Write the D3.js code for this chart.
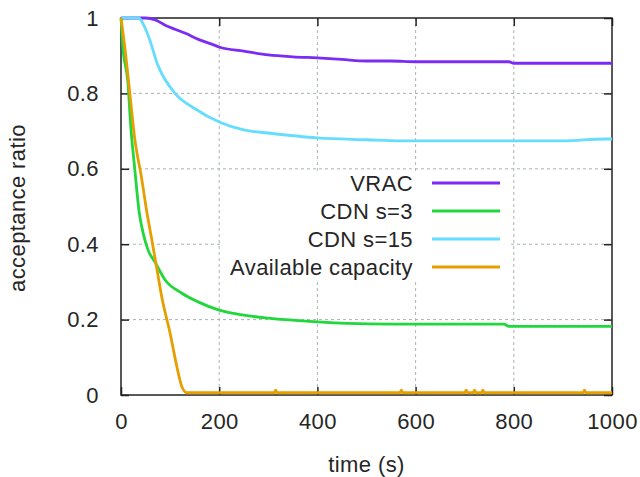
<!DOCTYPE html>
<html>
<head>
<meta charset="utf-8">
<script src="https://d3js.org/d3.v7.min.js"></script>
<style>
body { margin: 0; background: #fff; }
svg text { font-family: "Liberation Sans", Arial, sans-serif; fill: #262626; letter-spacing: 0.4px; }
.grid line { stroke: #a9b6b1; stroke-width: 1; stroke-dasharray: 3,3; }
.series { fill: none; stroke-width: 2.8; stroke-linejoin: round; }
</style>
</head>
<body>
<svg width="640" height="477"></svg>
<script>
// series (time in s, acceptance ratio)
const vracT = [0, 50, 70, 90, 110, 130, 160, 190, 200, 250, 300, 350, 400, 450, 500, 550, 600, 700, 790, 800, 1000];
const vracV = [1, 1, 0.995, 0.981, 0.97, 0.96, 0.942, 0.928, 0.923, 0.912, 0.902, 0.897, 0.894, 0.89, 0.886, 0.886, 0.884, 0.884, 0.884, 0.88, 0.88];

const cdn3T = [0, 4, 14, 20, 28, 37, 45, 55, 69, 90, 124, 157, 200, 250, 300, 400, 460, 550, 700, 780, 790, 1000];
const cdn3V = [1, 0.92, 0.83, 0.71, 0.6, 0.485, 0.43, 0.385, 0.353, 0.305, 0.27, 0.247, 0.225, 0.212, 0.204, 0.194, 0.19, 0.188, 0.188, 0.188, 0.182, 0.182];

const cdn15T = [0, 35, 55, 75, 110, 150, 200, 250, 300, 400, 500, 570, 700, 900, 985, 1000];
const cdn15V = [1, 1, 0.955, 0.875, 0.8, 0.76, 0.724, 0.703, 0.695, 0.682, 0.677, 0.674, 0.674, 0.674, 0.679, 0.679];

const capT = [0, 8, 18, 28, 42, 52, 63, 73, 83, 100, 114, 124, 134, 312, 315, 318, 568, 571, 574, 700, 703, 706, 717, 720, 723, 734, 737, 740, 941, 944, 947, 1000];
const capV = [1, 0.92, 0.8, 0.68, 0.575, 0.49, 0.41, 0.335, 0.26, 0.164, 0.074, 0.022, 0.006, 0.006, 0.013, 0.006, 0.006, 0.013, 0.006, 0.006, 0.013, 0.006, 0.006, 0.013, 0.006, 0.006, 0.013, 0.006, 0.006, 0.013, 0.006, 0.006];

const seriesNames = ['VRAC', 'CDN s=3', 'CDN s=15', 'Available capacity'];
const seriesColors = ['#7b2cf4', '#22d73c', '#66ddff', '#e69f00'];
const xTicks = [0, 200, 400, 600, 800, 1000];
const yTicks = [0, 0.2, 0.4, 0.6, 0.8, 1];

const series = [
  {name: seriesNames[0], color: seriesColors[0], t: vracT, v: vracV},
  {name: seriesNames[1], color: seriesColors[1], t: cdn3T, v: cdn3V},
  {name: seriesNames[2], color: seriesColors[2], t: cdn15T, v: cdn15V},
  {name: seriesNames[3], color: seriesColors[3], t: capT, v: capV}
];

const svg = d3.select('svg');
const pLeft = 121, pRight = 612, pTop = 18, pBottom = 395;
const fontSize = '22px';

const x = d3.scaleLinear().domain([0, 1000]).range([pLeft, pRight]);
const y = d3.scaleLinear().domain([0, 1]).range([pBottom, pTop]);

// grid
const grid = svg.append('g').attr('class', 'grid');
grid.selectAll('.gx').data(xTicks.slice(1, -1)).enter().append('line')
    .attr('x1', d => x(d)).attr('x2', d => x(d))
    .attr('y1', pTop).attr('y2', pBottom);
grid.selectAll('.gy').data(yTicks.slice(1, -1)).enter().append('line')
    .attr('x1', pLeft).attr('x2', pRight)
    .attr('y1', d => y(d)).attr('y2', d => y(d));

// legend box (opaque)
svg.append('rect')
    .attr('x', 222).attr('y', 171)
    .attr('width', 286).attr('height', 108)
    .attr('fill', '#fff');

// axes with inward ticks on all four sides
const tickLen = 8;
svg.append('g').attr('transform', `translate(0,${pBottom})`)
    .call(d3.axisBottom(x).tickValues(xTicks).tickSizeInner(-tickLen).tickSizeOuter(0).tickPadding(18)
      .tickFormat(d3.format('d')))
    .call(g => g.select('.domain').remove());
svg.append('g').attr('transform', `translate(0,${pTop})`)
    .call(d3.axisTop(x).tickValues(xTicks).tickSizeInner(-tickLen).tickSizeOuter(0).tickFormat(''))
    .call(g => g.select('.domain').remove());
svg.append('g').attr('transform', `translate(${pLeft},0)`)
    .call(d3.axisLeft(y).tickValues(yTicks).tickSizeInner(-tickLen).tickSizeOuter(0).tickPadding(22)
      .tickFormat(d3.format('~g')))
    .call(g => g.select('.domain').remove());
svg.append('g').attr('transform', `translate(${pRight},0)`)
    .call(d3.axisRight(y).tickValues(yTicks).tickSizeInner(-tickLen).tickSizeOuter(0).tickFormat(''))
    .call(g => g.select('.domain').remove());

svg.selectAll('.tick line').attr('stroke', '#222').attr('stroke-width', 1.5);
svg.selectAll('.tick text')
    .style('font-size', fontSize)
    .attr('fill', '#262626');

// frame
svg.append('rect')
    .attr('x', pLeft).attr('y', pTop)
    .attr('width', pRight - pLeft).attr('height', pBottom - pTop)
    .attr('fill', 'none').attr('stroke', '#222').attr('stroke-width', 1.5);

// series lines
const line = d3.line()
    .curve(d3.curveMonotoneX)
    .x(d => x(d[0]))
    .y(d => y(d[1]));

svg.selectAll('.series').data(series).enter().append('path')
    .attr('class', 'series')
    .attr('stroke', d => d.color)
    .attr('d', d => line(d.t.map((t, i) => [t, d.v[i]])));

// legend
const legend = svg.append('g');
const legendY = d3.scalePoint().domain(seriesNames).range([183, 267]);
series.forEach(s => {
  legend.append('text')
      .attr('x', 413).attr('y', legendY(s.name))
      .attr('dy', '0.36em')
      .attr('text-anchor', 'end')
      .style('font-size', fontSize)
      .text(s.name);
  legend.append('line')
      .attr('x1', 432).attr('x2', 500)
      .attr('y1', legendY(s.name)).attr('y2', legendY(s.name))
      .attr('stroke', s.color).attr('stroke-width', 2.8);
});

// axis titles
svg.append('text')
    .attr('x', (pLeft + pRight) / 2).attr('y', 472)
    .attr('text-anchor', 'middle')
    .style('font-size', fontSize)
    .text('time (s)');
svg.append('text')
    .attr('transform', 'translate(25,208) rotate(-90)')
    .attr('text-anchor', 'middle')
    .style('font-size', fontSize)
    .text('acceptance ratio');
</script>
</body>
</html>
